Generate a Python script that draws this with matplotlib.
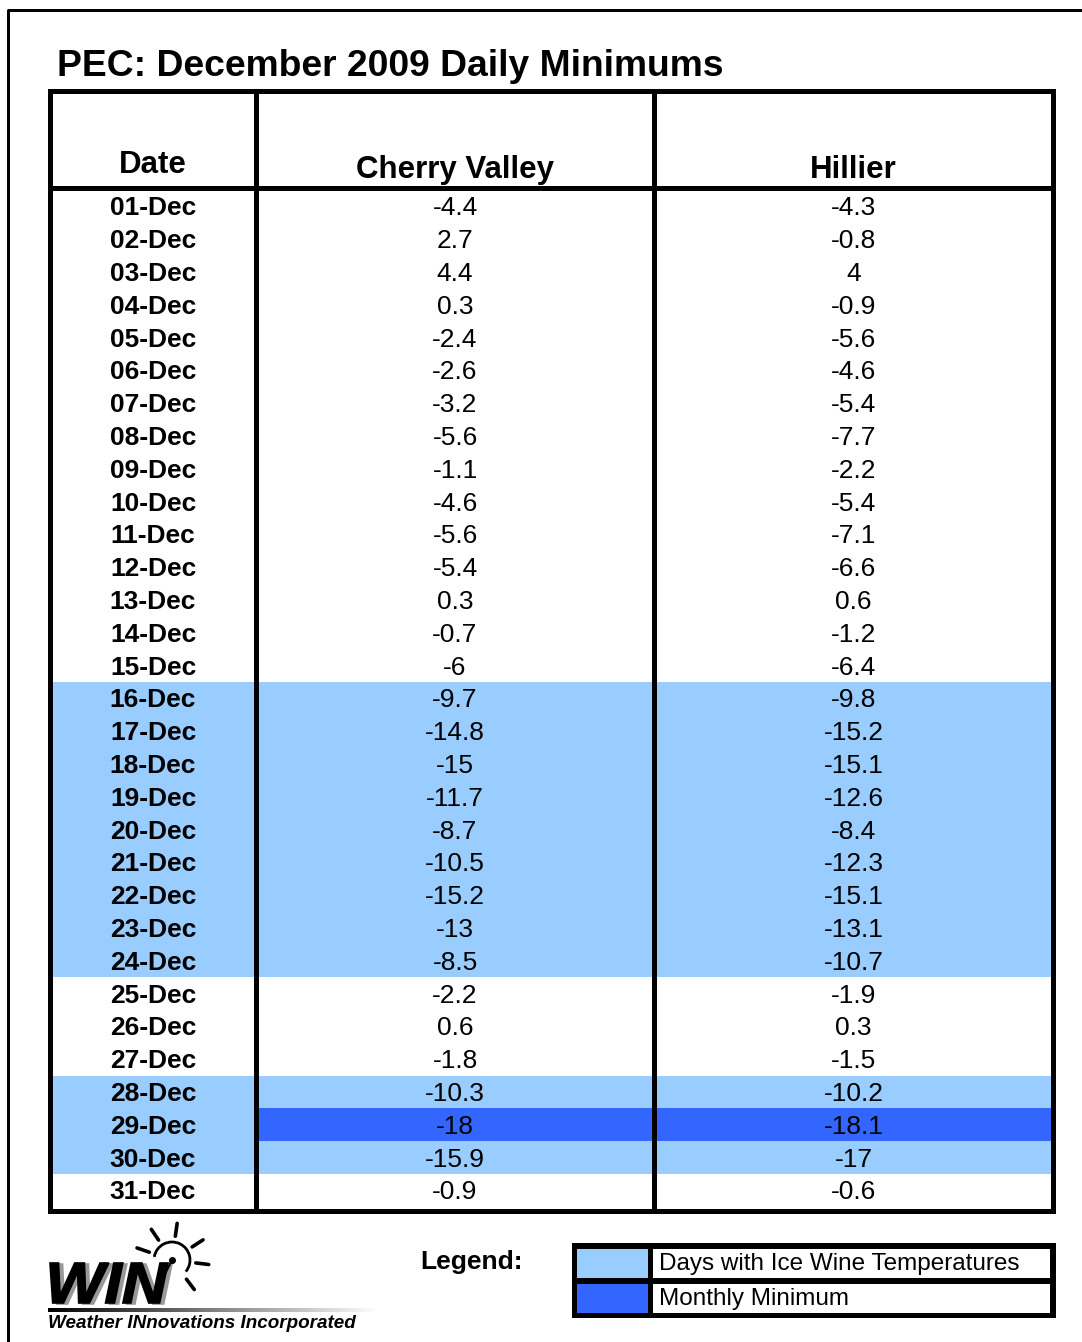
import numpy as np
import matplotlib
matplotlib.use("Agg")
import matplotlib.pyplot as plt
from matplotlib.patches import Rectangle, Arc, PathPatch
from matplotlib.textpath import TextPath
from matplotlib.font_manager import FontProperties
from matplotlib.transforms import Affine2D

plt.rcParams['font.family'] = ['Liberation Sans', 'DejaVu Sans']

title = "PEC: December 2009 Daily Minimums"
columns = ["Date", "Cherry Valley", "Hillier"]
dates = [f"{d:02d}-Dec" for d in range(1, 32)]
cherry = ["-4.4", "2.7", "4.4", "0.3", "-2.4", "-2.6", "-3.2", "-5.6", "-1.1", "-4.6",
          "-5.6", "-5.4", "0.3", "-0.7", "-6", "-9.7", "-14.8", "-15", "-11.7", "-8.7",
          "-10.5", "-15.2", "-13", "-8.5", "-2.2", "0.6", "-1.8", "-10.3", "-18", "-15.9", "-0.9"]
hillier = ["-4.3", "-0.8", "4", "-0.9", "-5.6", "-4.6", "-5.4", "-7.7", "-2.2", "-5.4",
           "-7.1", "-6.6", "0.6", "-1.2", "-6.4", "-9.8", "-15.2", "-15.1", "-12.6", "-8.4",
           "-12.3", "-15.1", "-13.1", "-10.7", "-1.9", "0.3", "-1.5", "-10.2", "-18.1", "-17", "-0.6"]
legend_labels = ["Days with Ice Wine Temperatures", "Monthly Minimum"]

ICE = "#99CCFF"
MINC = "#3366FF"
W, H = 1082, 1342

fig = plt.figure(figsize=(W / 100, H / 100), dpi=100)
ax = fig.add_axes([0, 0, 1, 1])
ax.set_xlim(0, W)
ax.set_ylim(H, 0)
ax.axis("off")

px = 72 / 100  # points per pixel

# outer page border
ax.plot([8, 8, W], [H, 10, 10], color="black", lw=3 * px, solid_capstyle="butt")

ax.text(57, 66, title, fontsize=26.8, fontweight="bold", va="center", ha="left")

# table geometry
tl, tr, tt, tb = 50, 1053, 91, 1211
c1, c2 = 256, 654
hdr = 188
row_h = 32.8
row0 = 190

cv = np.array([float(v) for v in cherry])
hl = np.array([float(v) for v in hillier])
lows = np.minimum(cv, hl)
min_row = int(np.argmin(lows))

for i in range(len(dates)):
    y = row0 + i * row_h
    if lows[i] <= -8:
        ax.add_patch(Rectangle((tl, y), tr - tl, row_h, color=ICE, lw=0))
    if i == min_row:
        ax.add_patch(Rectangle((c1, y), tr - c1, row_h, color=MINC, lw=0))
    yc = y + row_h / 2 + 2
    ax.text((tl + c1) / 2, yc, dates[i], fontsize=19, fontweight="bold", ha="center", va="center")
    ax.text((c1 + c2) / 2, yc, cherry[i], fontsize=19, ha="center", va="center")
    ax.text((c2 + tr) / 2, yc, hillier[i], fontsize=19, ha="center", va="center")

# headers
ax.text((tl + c1) / 2, 165, columns[0], fontsize=22.5, fontweight="bold", ha="center", va="center")
ax.text((c1 + c2) / 2, 170, columns[1], fontsize=22.5, fontweight="bold", ha="center", va="center")
ax.text((c2 + tr) / 2, 170, columns[2], fontsize=22.5, fontweight="bold", ha="center", va="center")

# table lines
lw = 5 * px
ax.add_patch(Rectangle((tl, tt), tr - tl, tb - tt, fill=False, ec="black", lw=lw))
ax.plot([tl, tr], [hdr, hdr], color="black", lw=lw)
ax.plot([c1, c1], [tt, tb], color="black", lw=lw)
ax.plot([c2, c2], [tt, tb], color="black", lw=lw)

# legend
ax.text(420, 1262, "Legend:", fontsize=19, fontweight="bold", ha="left", va="center")
ax.add_patch(Rectangle((572, 1243), 484, 75, color="black", lw=0))
for k, (lab, col) in enumerate(zip(legend_labels, [ICE, MINC])):
    y0 = 1249 + k * 35
    ax.add_patch(Rectangle((577, y0), 71, 29, color=col, lw=0))
    ax.add_patch(Rectangle((653, y0), 397, 29, color="white", lw=0))
    ax.text(659, y0 + 15, lab, fontsize=17.5, ha="left", va="center")

# logo: WIN lettering fitted into its box
fp = FontProperties(family="Liberation Sans", weight="bold", style="italic")
tp = TextPath((0, 0), "WIN", size=100, prop=fp)
bb = tp.get_extents()
x0, x1, y0, y1 = 50, 168, 1263, 1303
sx = (x1 - x0) / bb.width
sy = (y1 - y0) / bb.height
for dx, dy, col in [(4, 1, "#999999"), (0, 0, "black")]:
    tr_ = Affine2D().translate(-bb.x0, -bb.y0).scale(sx, -sy).translate(x0 + dx, y1 + dy)
    ax.add_patch(PathPatch(tr_.transform_path(tp), fc=col, ec=col, lw=1.2))

cx, cy = 172, 1260
ax.add_patch(Arc((cx, cy), 36, 36, theta1=190, theta2=400, color="black", lw=2))
for ang in [-161, -124, -82, -33, 7, 53]:
    a = np.deg2rad(ang)
    ax.plot([cx + 24 * np.cos(a), cx + 37 * np.cos(a)],
            [cy + 24 * np.sin(a), cy + 37 * np.sin(a)], color="black", lw=2.6,
            solid_capstyle="round")
ax.plot(cx, cy, "o", color="black", ms=4)
ax.plot([cx, cx - 10], [cy, cy + 20], color="black", lw=1.5)

grad = np.linspace(0, 1, 256)[None, :]
ax.imshow(grad, cmap="gray", extent=(48, 378, 1312, 1308), aspect="auto", zorder=2)
ax.set_xlim(0, W)
ax.set_ylim(H, 0)
ax.text(48, 1323, "Weather INnovations Incorporated", fontsize=13.6, fontweight="bold",
        fontstyle="italic", ha="left", va="center")

fig.savefig("out.png", dpi=100)
